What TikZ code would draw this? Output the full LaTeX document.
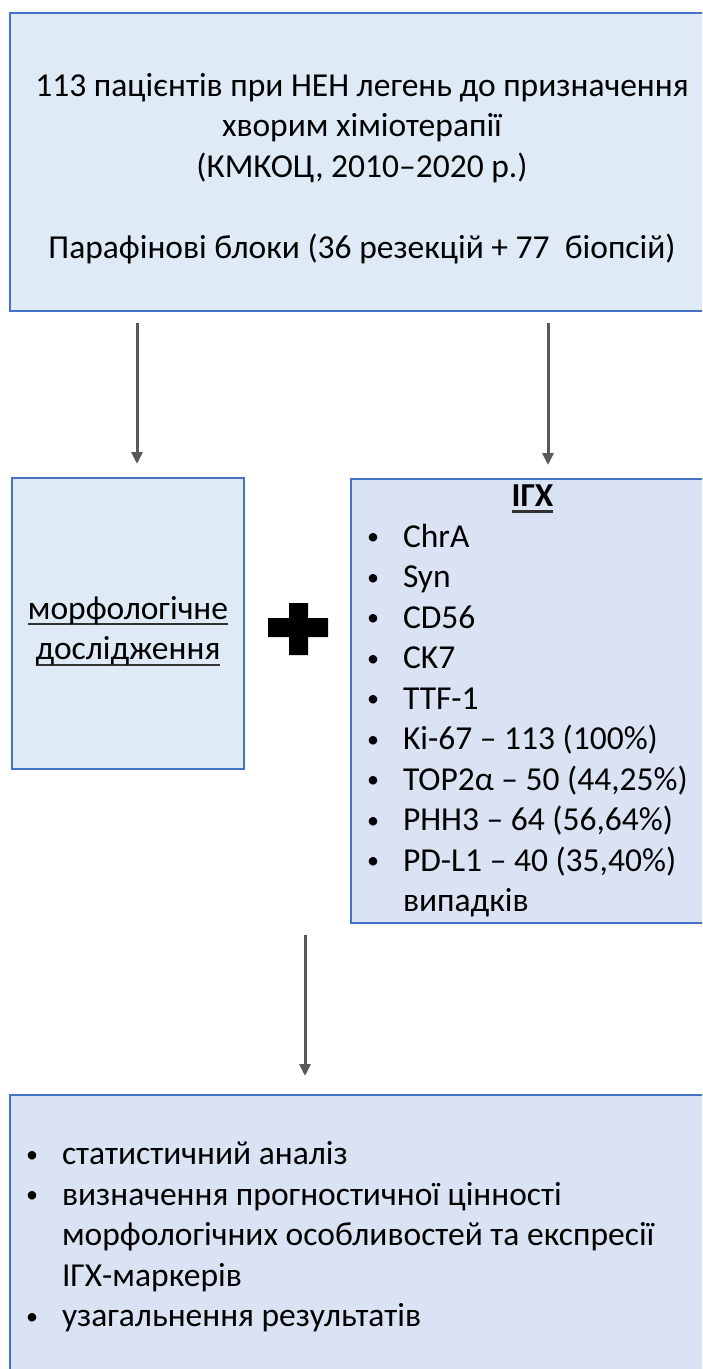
\documentclass[tikz,border=0pt]{standalone}
\usepackage{fontspec}
\setmainfont{Carlito}
\usetikzlibrary{positioning, math, arrows.meta}
\definecolor{boxline}{RGB}{68,114,196}
\definecolor{boxfill}{RGB}{222,235,247}
\definecolor{boxfillb}{RGB}{218,227,243}
\definecolor{arrowgray}{RGB}{89,89,89}
\tikzset{
panel/.style={draw=boxline, line width=2pt, fill=boxfill, inner sep=0pt, font=\fontsize{33.5}{40.5}\selectfont},
panelb/.style={panel, fill=boxfillb},
arr/.style={draw=arrowgray, line width=3pt, -{Triangle[length=12pt,width=11pt]}},
}
\newcommand{\bul}{\makebox[37pt][l]{\hspace{1pt}\raisebox{2.5pt}{\fontsize{24}{24}\selectfont •}}}
\newsavebox\ulbox
\newcommand{\ulx}[1]{\sbox\ulbox{#1}\rlap{\color{black!80}\rule[-6pt]{\wd\ulbox}{2.2pt}}\usebox\ulbox}

\begin{document}
\begin{tikzpicture}[x=1pt, y=-1pt]
    \tikzmath{ \upgap=11; \downgap=13; };  % space between boxes and arrows

    \useasboundingbox (0,0) rectangle (702,1369);
    \clip (0,0) rectangle (702,1369);

    %top box
    \node[panel, minimum width=704, minimum height=298, align=center] (top) at (362,162)
        {\rule{0pt}{36pt}113 пацієнтів при НЕН легень до призначення\\
         хворим хіміотерапії\\
         (КМКОЦ, 2010–2020 р.)\\[40.5pt]
         Парафінові блоки (36 резекцій + 77~ біопсій)};

    %middle boxes
    \node[panel, minimum width=232, minimum height=291, align=center] (morph) at (128,623.5)
        {\rule{0pt}{38pt}\ulx{морфологічне}\\\ulx{дослідження}};
    \node[panelb, minimum width=363, minimum height=444, text width=333, align=flush left] (igx) at (532.5,701)
        {\makebox[333pt]{\textbf{\ulx{ІГХ}}}\\
         \bul ChrA\\
         \bul Syn\\
         \bul CD56\\
         \bul CK7\\
         \bul TTF-1\\
         \bul Ki-67 – 113 (100\%)\\
         \bul TOP2α – 50 (44,25\%)\\
         \bul PHH3 – 64 (56,64\%)\\
         \bul PD-L1 – 40 (35,40\%)\\
         \hspace*{37pt}випадків};

    %plus sign
    \fill[black] (289,603) -- (308,603) -- (308,618) -- (328,618) -- (328,637) -- (308,637)
        -- (308,655) -- (289,655) -- (289,637) -- (268,637) -- (268,618) -- (289,618) -- cycle;

    %bottom box
    \node[panelb, minimum width=704, minimum height=284, text width=674, align=flush left] (result) at (362,1237)
        {\bul статистичний аналіз\\
         \bul визначення прогностичної цінності\\
         \hspace*{37pt}морфологічних особливостей та експресії\\
         \hspace*{37pt}ІГХ-маркерів\\
         \bul узагальнення результатів};

    %arrows
    \coordinate (lx) at (137,0);
    \coordinate (rx) at (548,0);
    \coordinate (bx) at (305,0);
    \draw[arr, shorten <=\upgap pt, shorten >=\downgap pt] (top.south -| lx)--(morph.north -| lx);
    \draw[arr, shorten <=\upgap pt, shorten >=\downgap pt] (top.south -| rx)--(igx.north -| rx);
    \draw[arr, shorten <=\upgap pt, shorten >=18pt] (igx.south -| bx)--(result.north -| bx);

\end{tikzpicture}
\end{document}
